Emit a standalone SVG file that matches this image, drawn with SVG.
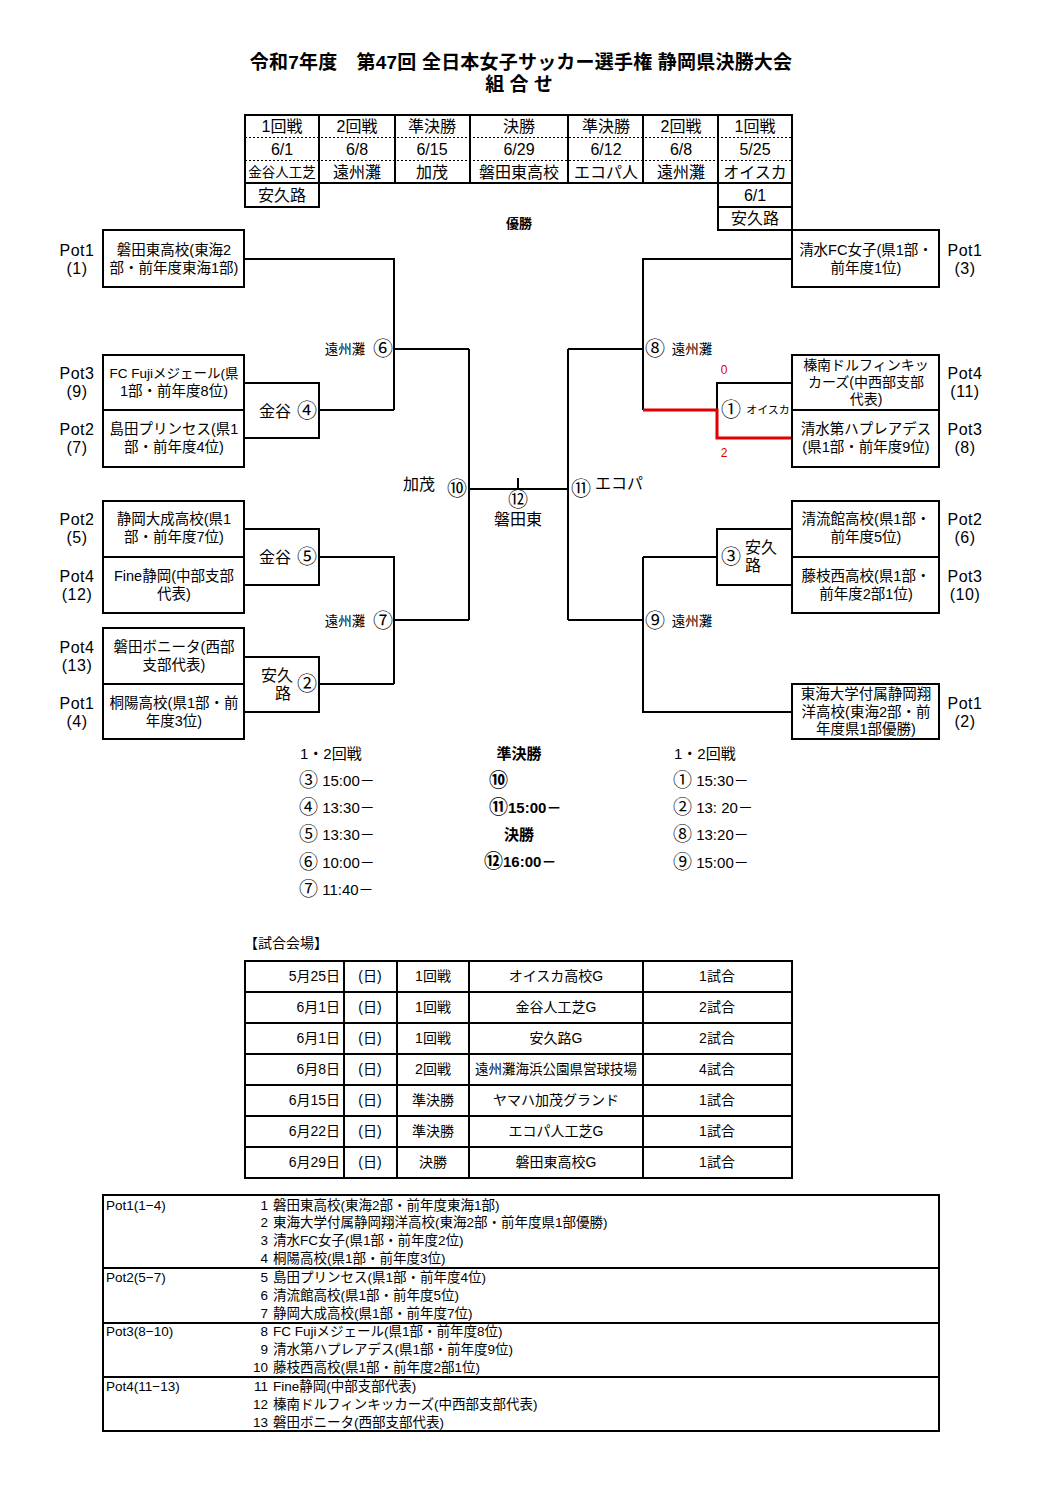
<svg xmlns="http://www.w3.org/2000/svg" width="1058" height="1497" viewBox="0 0 1058 1497">
<style>
text{font-family:"Liberation Sans","Noto Sans CJK JP",sans-serif;dominant-baseline:central;fill:#000}
.t{font-size:19px;font-weight:bold;text-anchor:middle}
.h{font-size:16px;text-anchor:middle}
.b{font-size:14.5px;text-anchor:middle}
.p{font-size:16px;text-anchor:middle;letter-spacing:0.5px}
.s{font-size:13.5px;text-anchor:middle}
.m{font-size:16px;text-anchor:middle}
.c{font-size:20px;text-anchor:middle}
.cd{font-size:19px}
.sc{font-size:15px}
.bd{font-size:15px;font-weight:bold;text-anchor:middle}
.v{font-size:14px;text-anchor:middle}
.l{font-size:13.5px}
.red{font-size:12px;fill:#e00000;text-anchor:middle}
.box{fill:#fff;stroke:#000;stroke-width:2}
.ln{fill:none;stroke:#000;stroke-width:2}
.dot{fill:none;stroke:#000;stroke-width:1;stroke-dasharray:2 2}
.rl{fill:none;stroke:#e00000;stroke-width:3}
</style>
<rect width="1058" height="1497" fill="#fff"/>

<g id="title">
<text class="t" x="521" y="62" style="letter-spacing:0.2px">令和7年度　第47回 全日本女子サッカー選手権 静岡県決勝大会</text>
<text class="t" x="519" y="84">組 合 せ</text>
</g>

<g id="header-table">
<rect class="box" x="245" y="115" width="547" height="68"/>
<rect class="box" x="245" y="183" width="74" height="24"/>
<rect class="box" x="718" y="183" width="74" height="47"/>
<path class="ln" d="M718,207H792"/>
<path class="ln" d="M319,115V183M395,115V183M470,115V183M568,115V183M643,115V183M718,115V183"/>
<path class="dot" d="M245,137.5H792M245,160.5H792"/>
<text class="h" x="282" y="126">1回戦</text>
<text class="h" x="357" y="126">2回戦</text>
<text class="h" x="432" y="126">準決勝</text>
<text class="h" x="519" y="126">決勝</text>
<text class="h" x="606" y="126">準決勝</text>
<text class="h" x="681" y="126">2回戦</text>
<text class="h" x="755" y="126">1回戦</text>
<text class="h" x="282" y="149">6/1</text>
<text class="h" x="357" y="149">6/8</text>
<text class="h" x="432" y="149">6/15</text>
<text class="h" x="519" y="149">6/29</text>
<text class="h" x="606" y="149">6/12</text>
<text class="h" x="681" y="149">6/8</text>
<text class="h" x="755" y="149">5/25</text>
<text class="h" x="282" y="172" style="font-size:13.5px">金谷人工芝</text>
<text class="h" x="357" y="172">遠州灘</text>
<text class="h" x="432" y="172">加茂</text>
<text class="h" x="519" y="172">磐田東高校</text>
<text class="h" x="606" y="172">エコパ人</text>
<text class="h" x="681" y="172">遠州灘</text>
<text class="h" x="755" y="172">オイスカ</text>
<text class="h" x="282" y="195">安久路</text>
<text class="h" x="755" y="195">6/1</text>
<text class="h" x="755" y="218">安久路</text>
<text x="519" y="223" style="font-size:13px;font-weight:bold;text-anchor:middle">優勝</text>
</g>

<g id="connectors">
<path class="ln" d="M244,259H394V410M319,410H394M394,349H469"/>
<path class="ln" d="M244,383H319V438H244"/>
<path class="ln" d="M244,529H319V585H244M319,557H394V684M319,684H394M394,620H469"/>
<path class="ln" d="M244,657H319V712H244"/>
<path class="ln" d="M469,349V620M469,489H568M518,478V489M568,349V620M568,349H643M568,620H643"/>
<path class="ln" d="M792,259H643V410M717,410V383H792"/>
<path class="rl" d="M643,410H717V438H792"/>
<path class="ln" d="M717,557H643M643,557V712H792M792,529H717V585H792"/>
</g>

<g id="node-iwatahigashi">
<rect class="box" x="103" y="230" width="141" height="57"/>
<text class="b" x="174" y="250">磐田東高校(東海2</text>
<text class="b" x="174" y="268">部・前年度東海1部)</text>
<text class="p" x="77" y="250">Pot1</text><text class="p" x="77" y="268">(1)</text>
</g>
<g id="node-fcfuji">
<rect class="box" x="103" y="355" width="141" height="55"/>
<text class="b" x="174" y="373" style="font-size:13.5px">FC Fujiメジェール(県</text>
<text class="b" x="174" y="391">1部・前年度8位)</text>
<text class="p" x="77" y="373">Pot3</text><text class="p" x="77" y="391">(9)</text>
</g>
<g id="node-shimada">
<rect class="box" x="103" y="410" width="141" height="57"/>
<text class="b" x="174" y="429">島田プリンセス(県1</text>
<text class="b" x="174" y="447">部・前年度4位)</text>
<text class="p" x="77" y="429">Pot2</text><text class="p" x="77" y="447">(7)</text>
</g>
<g id="node-taisei">
<rect class="box" x="103" y="501" width="141" height="56"/>
<text class="b" x="174" y="519">静岡大成高校(県1</text>
<text class="b" x="174" y="537">部・前年度7位)</text>
<text class="p" x="77" y="519">Pot2</text><text class="p" x="77" y="537">(5)</text>
</g>
<g id="node-fine">
<rect class="box" x="103" y="557" width="141" height="56"/>
<text class="b" x="174" y="576">Fine静岡(中部支部</text>
<text class="b" x="174" y="594">代表)</text>
<text class="p" x="77" y="576">Pot4</text><text class="p" x="77" y="594">(12)</text>
</g>
<g id="node-bonita">
<rect class="box" x="103" y="628" width="141" height="56"/>
<text class="b" x="174" y="647">磐田ボニータ(西部</text>
<text class="b" x="174" y="665">支部代表)</text>
<text class="p" x="77" y="647">Pot4</text><text class="p" x="77" y="665">(13)</text>
</g>
<g id="node-toyo">
<rect class="box" x="103" y="684" width="141" height="55"/>
<text class="b" x="174" y="703">桐陽高校(県1部・前</text>
<text class="b" x="174" y="721">年度3位)</text>
<text class="p" x="77" y="703">Pot1</text><text class="p" x="77" y="721">(4)</text>
</g>

<g id="node-shimizufc">
<rect class="box" x="792" y="230" width="147" height="57"/>
<text class="b" x="866" y="250">清水FC女子(県1部・</text>
<text class="b" x="866" y="268">前年度1位)</text>
<text class="p" x="965" y="250">Pot1</text><text class="p" x="965" y="268">(3)</text>
</g>
<g id="node-hainan">
<rect class="box" x="792" y="355" width="147" height="55"/>
<text class="b" x="866" y="365" style="font-size:14px">榛南ドルフィンキッ</text>
<text class="b" x="866" y="382" style="font-size:14px">カーズ(中西部支部</text>
<text class="b" x="866" y="399" style="font-size:14px">代表)</text>
<text class="p" x="965" y="373">Pot4</text><text class="p" x="965" y="391">(11)</text>
</g>
<g id="node-pleiades">
<rect class="box" x="792" y="410" width="147" height="57"/>
<text class="b" x="866" y="429">清水第ハプレアデス</text>
<text class="b" x="866" y="447">(県1部・前年度9位)</text>
<text class="p" x="965" y="429">Pot3</text><text class="p" x="965" y="447">(8)</text>
</g>
<g id="node-seiryukan">
<rect class="box" x="792" y="501" width="147" height="56"/>
<text class="b" x="866" y="519">清流館高校(県1部・</text>
<text class="b" x="866" y="537">前年度5位)</text>
<text class="p" x="965" y="519">Pot2</text><text class="p" x="965" y="537">(6)</text>
</g>
<g id="node-fujiedanishi">
<rect class="box" x="792" y="557" width="147" height="56"/>
<text class="b" x="866" y="576">藤枝西高校(県1部・</text>
<text class="b" x="866" y="594">前年度2部1位)</text>
<text class="p" x="965" y="576">Pot3</text><text class="p" x="965" y="594">(10)</text>
</g>
<g id="node-tokai">
<rect class="box" x="792" y="684" width="147" height="55"/>
<text class="b" x="866" y="694">東海大学付属静岡翔</text>
<text class="b" x="866" y="712">洋高校(東海2部・前</text>
<text class="b" x="866" y="729">年度県1部優勝)</text>
<text class="p" x="965" y="703">Pot1</text><text class="p" x="965" y="721">(2)</text>
</g>

<g id="match-labels">
<text class="s" x="345" y="349">遠州灘</text><text class="c" x="383" y="349">⑥</text>
<text class="s" x="345" y="621">遠州灘</text><text class="c" x="383" y="621">⑦</text>
<text class="m" x="275" y="411">金谷</text><text class="c" x="307" y="411">④</text>
<text class="m" x="275" y="557">金谷</text><text class="c" x="307" y="557">⑤</text>
<text class="m" x="277" y="675">安久</text><text class="m" x="283" y="693">路</text><text class="c" x="307" y="684">②</text>
<text class="m" x="419" y="484">加茂</text><text class="c" x="457" y="489">⑩</text>
<text class="c" x="518" y="500">⑫</text><text class="m" x="518" y="519">磐田東</text>
<text class="c" x="581" y="489">⑪</text><text class="m" x="619" y="483">エコパ</text>
<text class="c" x="655" y="349">⑧</text><text class="s" x="692" y="349">遠州灘</text>
<text class="c" x="655" y="621">⑨</text><text class="s" x="692" y="621">遠州灘</text>
<text class="c" x="731" y="410">①</text><text x="768" y="410" style="font-size:11px;text-anchor:middle">オイスカ</text>
<text class="c" x="731" y="557">③</text><text class="m" x="761" y="547">安久</text><text class="m" x="753" y="565">路</text>
<text class="red" x="724" y="370">0</text>
<text class="red" x="724" y="453">2</text>
</g>

<g id="schedule">
<text class="sc" x="300" y="753">1・2回戦</text>
<text class="sc" x="299" y="780"><tspan class="cd">③</tspan> 15:00－</text>
<text class="sc" x="299" y="807"><tspan class="cd">④</tspan> 13:30－</text>
<text class="sc" x="299" y="834"><tspan class="cd">⑤</tspan> 13:30－</text>
<text class="sc" x="299" y="862"><tspan class="cd">⑥</tspan> 10:00－</text>
<text class="sc" x="299" y="889"><tspan class="cd">⑦</tspan> 11:40－</text>
<text class="bd" x="519" y="753">準決勝</text>
<text class="sc" x="489" y="780" style="font-weight:bold"><tspan class="cd">⑩</tspan></text>
<text class="sc" x="489" y="807" style="font-weight:bold"><tspan class="cd">⑪</tspan>15:00－</text>
<text class="bd" x="519" y="834">決勝</text>
<text class="sc" x="484" y="861" style="font-weight:bold"><tspan class="cd">⑫</tspan>16:00－</text>
<text class="sc" x="674" y="753">1・2回戦</text>
<text class="sc" x="673" y="780"><tspan class="cd">①</tspan> 15:30－</text>
<text class="sc" x="673" y="807"><tspan class="cd">②</tspan> 13: 20－</text>
<text class="sc" x="673" y="834"><tspan class="cd">⑧</tspan> 13:20－</text>
<text class="sc" x="673" y="862"><tspan class="cd">⑨</tspan> 15:00－</text>
</g>

<g id="venue-table">
<text x="244" y="943" style="font-size:14px">【試合会場】</text>
<rect class="box" x="245" y="961" width="547" height="217"/>
<path class="ln" d="M245,992H792M245,1023H792M245,1054H792M245,1085H792M245,1116H792M245,1147H792"/>
<path class="ln" d="M344,961V1178M397,961V1178M469,961V1178M643,961V1178"/>
<text x="340" y="976" style="text-anchor:end;font-size:14px">5月25日</text>
<text x="340" y="1007" style="text-anchor:end;font-size:14px">6月1日</text>
<text x="340" y="1038" style="text-anchor:end;font-size:14px">6月1日</text>
<text x="340" y="1069" style="text-anchor:end;font-size:14px">6月8日</text>
<text x="340" y="1100" style="text-anchor:end;font-size:14px">6月15日</text>
<text x="340" y="1131" style="text-anchor:end;font-size:14px">6月22日</text>
<text x="340" y="1162" style="text-anchor:end;font-size:14px">6月29日</text>
<text class="v" x="370" y="976">(日)</text>
<text class="v" x="370" y="1007">(日)</text>
<text class="v" x="370" y="1038">(日)</text>
<text class="v" x="370" y="1069">(日)</text>
<text class="v" x="370" y="1100">(日)</text>
<text class="v" x="370" y="1131">(日)</text>
<text class="v" x="370" y="1162">(日)</text>
<text class="v" x="433" y="976">1回戦</text>
<text class="v" x="433" y="1007">1回戦</text>
<text class="v" x="433" y="1038">1回戦</text>
<text class="v" x="433" y="1069">2回戦</text>
<text class="v" x="433" y="1100">準決勝</text>
<text class="v" x="433" y="1131">準決勝</text>
<text class="v" x="433" y="1162">決勝</text>
<text class="v" x="556" y="976">オイスカ高校G</text>
<text class="v" x="556" y="1007">金谷人工芝G</text>
<text class="v" x="556" y="1038">安久路G</text>
<text class="v" x="556" y="1069" style="font-size:13.5px">遠州灘海浜公園県営球技場</text>
<text class="v" x="556" y="1100">ヤマハ加茂グランド</text>
<text class="v" x="556" y="1131">エコパ人工芝G</text>
<text class="v" x="556" y="1162">磐田東高校G</text>
<text class="v" x="717" y="976">1試合</text>
<text class="v" x="717" y="1007">2試合</text>
<text class="v" x="717" y="1038">2試合</text>
<text class="v" x="717" y="1069">4試合</text>
<text class="v" x="717" y="1100">1試合</text>
<text class="v" x="717" y="1131">1試合</text>
<text class="v" x="717" y="1162">1試合</text>
</g>

<g id="pot-table">
<rect class="box" x="103" y="1195" width="836" height="236"/>
<path class="ln" d="M103,1268H939M103,1323H939M103,1377H939"/>
<text class="l" x="106" y="1205">Pot1(1−4)</text>
<text class="l" x="106" y="1277">Pot2(5−7)</text>
<text class="l" x="106" y="1331">Pot3(8−10)</text>
<text class="l" x="106" y="1386">Pot4(11−13)</text>
<g style="text-anchor:end">
<text class="l" x="268" y="1205">1</text>
<text class="l" x="268" y="1222">2</text>
<text class="l" x="268" y="1240">3</text>
<text class="l" x="268" y="1258">4</text>
<text class="l" x="268" y="1277">5</text>
<text class="l" x="268" y="1295">6</text>
<text class="l" x="268" y="1313">7</text>
<text class="l" x="268" y="1331">8</text>
<text class="l" x="268" y="1349">9</text>
<text class="l" x="268" y="1367">10</text>
<text class="l" x="268" y="1386">11</text>
<text class="l" x="268" y="1404">12</text>
<text class="l" x="268" y="1422">13</text>
</g>
<text class="l" x="273" y="1205">磐田東高校(東海2部・前年度東海1部)</text>
<text class="l" x="273" y="1222">東海大学付属静岡翔洋高校(東海2部・前年度県1部優勝)</text>
<text class="l" x="273" y="1240">清水FC女子(県1部・前年度2位)</text>
<text class="l" x="273" y="1258">桐陽高校(県1部・前年度3位)</text>
<text class="l" x="273" y="1277">島田プリンセス(県1部・前年度4位)</text>
<text class="l" x="273" y="1295">清流館高校(県1部・前年度5位)</text>
<text class="l" x="273" y="1313">静岡大成高校(県1部・前年度7位)</text>
<text class="l" x="273" y="1331">FC Fujiメジェール(県1部・前年度8位)</text>
<text class="l" x="273" y="1349">清水第ハプレアデス(県1部・前年度9位)</text>
<text class="l" x="273" y="1367">藤枝西高校(県1部・前年度2部1位)</text>
<text class="l" x="273" y="1386">Fine静岡(中部支部代表)</text>
<text class="l" x="273" y="1404">榛南ドルフィンキッカーズ(中西部支部代表)</text>
<text class="l" x="273" y="1422">磐田ボニータ(西部支部代表)</text>
</g>
</svg>
